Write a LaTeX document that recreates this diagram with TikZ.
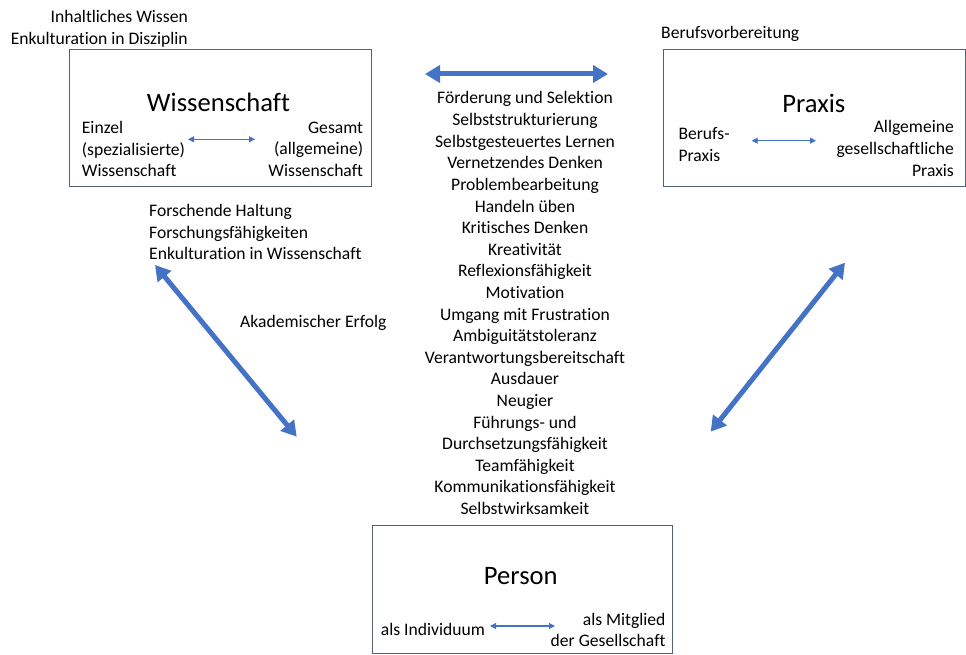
\documentclass[tikz,border=0pt]{standalone}
\usepackage{fontspec}
\setmainfont[Ligatures=NoCommon]{Carlito}
\usetikzlibrary{arrows.meta}
\definecolor{pfeil}{RGB}{68,114,196}
\definecolor{rahmen}{RGB}{84,98,118}
\tikzset{
  box/.style={draw=rahmen, line width=1pt, minimum width=#1, inner sep=0pt},
  txt/.style={font=\fontsize{17.6}{21.6}\selectfont, inner sep=0pt},
  titel/.style={font=\fontsize{26.6}{32}\selectfont, inner sep=0pt, anchor=base},
  dick/.style={pfeil, line width=5pt, {Triangle[length=15pt,width=17pt]}-{Triangle[length=15pt,width=17pt]}},
  duenn/.style={pfeil, line width=1.1pt, {Triangle[length=6pt,width=6pt]}-{Triangle[length=6pt,width=6pt]}}
}
\begin{document}
\begin{tikzpicture}[x=1pt, y=-1pt]
  \useasboundingbox (0, 0) rectangle (966, 655) ;
  % Rahmen
  \node[box=302pt, minimum height=137pt] (wbox) at (220, 118.5) {} ;
  \node[box=302pt, minimum height=137pt] (pbox) at (814, 118.5) {} ;
  \node[box=300pt, minimum height=128pt] (ebox) at (522, 589) {} ;
  % Wissenschaft
  \node[titel] (wiss) at (218.5, 112) {Wissenschaft} ;
  \node[txt, align=left, anchor=north west] (einzel) at (81.7, 121) {Einzel\\(spezialisierte)\\Wissenschaft} ;
  \node[txt, align=right, anchor=north east] (gesamt) at (363.3, 121.7) {Gesamt\\(allgemeine)\\Wissenschaft} ;
  \node[txt, align=right, anchor=north east] (inhalt) at (188, 10.4) {Inhaltliches Wissen\\Enkulturation in Disziplin} ;
  \node[txt, align=left, anchor=north west] (forsch) at (149, 204) {Forschende Haltung\\Forschungsfähigkeiten\\Enkulturation in Wissenschaft} ;
  \node[txt, anchor=base west] (akad) at (240, 327.5) {Akademischer Erfolg} ;
  % Praxis
  \node[titel] (praxis) at (813.8, 112.5) {Praxis} ;
  \node[txt, align=left, anchor=north west] (berufs) at (678.3, 127.7) {Berufs-\\Praxis} ;
  \node[txt, align=right, anchor=north east] (allg) at (954, 120.4) {Allgemeine\\gesellschaftliche\\Praxis} ;
  \node[txt, anchor=base west] (vorb) at (661, 39) {Berufsvorbereitung} ;
  % Person
  \node[titel] (person) at (520.8, 584.7) {Person} ;
  \node[txt, anchor=base west] (indiv) at (380.7, 635.3) {als Individuum} ;
  \node[txt, align=right, anchor=north east] (mitglied) at (665.7, 612.7) {als Mitglied\\der Gesellschaft} ;
  % Liste in der Mitte
  \foreach \t [count=\i] in {Förderung und Selektion, Selbststrukturierung,
      Selbstgesteuertes Lernen, Vernetzendes Denken, Problembearbeitung,
      Handeln üben, Kritisches Denken, Kreativität, Reflexionsfähigkeit,
      Motivation, Umgang mit Frustration, Ambiguitätstoleranz,
      Verantwortungsbereitschaft, Ausdauer, Neugier, Führungs- und,
      Durchsetzungsfähigkeit, Teamfähigkeit, Kommunikationsfähigkeit,
      Selbstwirksamkeit}
    \node[txt, anchor=base] (k\i) at (525, {104+21.6*(\i-1)}) {\t} ;
  % Pfeile
  \coordinate (wp-a) at (425, 74) ;
  \coordinate (wp-b) at (608, 74) ;
  \coordinate (we-a) at (155, 265) ;
  \coordinate (we-b) at (296.7, 436.7) ;
  \coordinate (pe-a) at (845, 262.7) ;
  \coordinate (pe-b) at (710.7, 431.7) ;
  \draw[dick] (wp-a) -- (wp-b) ;
  \draw[dick] (we-a) -- (we-b) ;
  \draw[dick] (pe-a) -- (pe-b) ;
  \coordinate (w-a) at (188, 139.3) ;
  \coordinate (w-b) at (255, 139.3) ;
  \coordinate (p-a) at (751.7, 140.7) ;
  \coordinate (p-b) at (816, 140.7) ;
  \coordinate (e-a) at (490, 626) ;
  \coordinate (e-b) at (555, 626) ;
  \draw[duenn] (w-a) -- (w-b) ;
  \draw[duenn] (p-a) -- (p-b) ;
  \draw[duenn] (e-a) -- (e-b) ;
\end{tikzpicture}
\end{document}
